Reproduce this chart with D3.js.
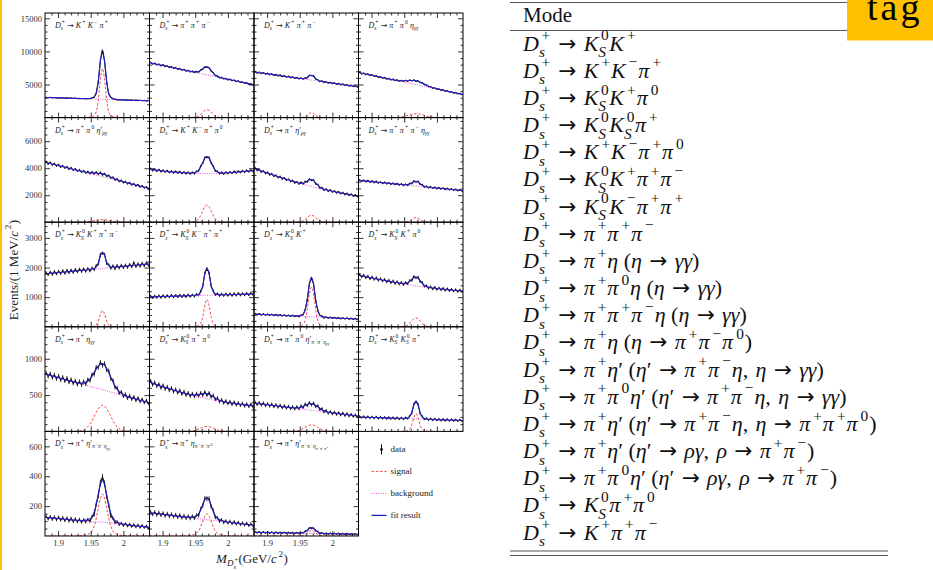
<!DOCTYPE html>
<html>
<head>
<meta charset="utf-8">
<script src="https://cdn.jsdelivr.net/npm/d3@7"></script>
<style>
  body { margin: 0; background: #fff; }
  svg { display: block; }
  text { font-family: "Liberation Serif", "Times New Roman", serif; white-space: pre; }
</style>
</head>
<body>
<div id="chart"></div>
<script>
const w = 933;
const h = 570;

// fit grid layout
const gridLeft = 45;
const gridTop = 13;
const colW = 104.5;
const rowH = 104.6;

const X_DOMAIN = [1.88, 2.04];
const X_TICKS = [1.9, 1.95, 2];
const X_TICK_LABELS = ['1.9', '1.95', '2'];
const ROW_YMAX = [15800, 7750, 3530, 1440, 700];
const ROW_TICKS = [[5000, 10000, 15000], [2000, 4000, 6000], [1000, 2000, 3000], [500, 1000], [200, 400, 600]];
const ROW_MINOR = [1000, 500, 200, 100, 50];

// data bin centres (GeV), 50 bins
const BIN_X = d3.range(50).map(i => 1.8816 + 0.0032 * i);
const CURVE_X = [1.88, 1.90, 1.92, 1.935, 1.945, 1.952, 1.957, 1.961, 1.965, 1.968, 1.971, 1.975, 1.979, 1.984, 1.991, 2.00, 2.02, 2.04];

const LABELS = [
  'D@{s}{+} → K^{+} K^{−} π^{+}', 'D@{s}{+} → π^{+} π^{+} π^{−}', 'D@{s}{+} → K^{+} π^{+} π^{−}', 'D@{s}{+} → π^{+} π^{0} η_{γγ}',
  'D@{s}{+} → π^{+} π^{0} η′_{ργ}', 'D@{s}{+} → K^{+} K^{−} π^{+} π^{0}', 'D@{s}{+} → π^{+} η′_{ργ}', 'D@{s}{+} → π^{+} π^{+} π^{−} η_{γγ}',
  'D@{s}{+} → K@{S}{0} K^{+} π^{+} π^{−}', 'D@{s}{+} → K@{S}{0} K^{−} π^{+} π^{+}', 'D@{s}{+} → K@{S}{0} K^{+}', 'D@{s}{+} → K@{S}{0} K^{+} π^{0}',
  'D@{s}{+} → π^{+} η_{γγ}', 'D@{s}{+} → K@{S}{0} π^{+} π^{0}', 'D@{s}{+} → π^{+} π^{0} η′_{π^{+}π^{−}η_{γγ}}', 'D@{s}{+} → K@{S}{0} K@{S}{0} π^{+}',
  'D@{s}{+} → π^{+} η′_{π^{+}π^{−}η_{γγ}}', 'D@{s}{+} → π^{+} η_{π^{+}π^{−}π^{0}}', 'D@{s}{+} → π^{+} η′_{π^{+}π^{−}η_{π^{+}π^{−}π^{0}}}'
];

const data_KKpi = [3080,2990,3060,2970,3040,2950,3010,2930,3000,2920,2980,2900,2960,2880,2940,2870,2910,2850,2890,2830,2870,2850,2960,3080,3720,5420,8600,10200,8480,5450,3600,3070,2810,2780,2680,2720,2650,2700,2630,2690,2610,2660,2590,2640,2570,2620,2550,2600,2530,2570];
const bkg_KKpi = [3050,2990,2925,2880,2850,2825,2810,2800,2785,2775,2765,2755,2740,2725,2705,2675,2610,2550];
const sig_KKpi = [0,0,0,0,37,148,518,2220,5920,7400,5920,2220,518,148,37,0,0,0];

const data_pipipi = [8380,8090,8240,7960,8090,7830,7980,7700,7820,7560,7700,7440,7560,7300,7420,7160,7290,7030,7150,6900,7010,6800,6970,6880,7210,7300,7700,7580,7560,7030,6810,6330,6300,5990,6080,5830,5940,5700,5800,5570,5670,5430,5540,5300,5400,5170,5270,5030,5130,4900];
const bkg_pipipi = [8300,7880,7460,7150,6940,6790,6690,6605,6520,6460,6395,6310,6225,6120,5975,5790,5370,4950];
const sig_pipipi = [0,0,0,0,12,96,348,732,1092,1200,1092,732,348,96,12,0,0,0];

const data_Kpipi = [6980,6730,6880,6650,6800,6560,6700,6470,6610,6380,6520,6290,6440,6200,6330,6110,6250,6020,6160,5940,6060,5850,5990,5800,6000,6000,6400,6340,6310,5820,5730,5440,5540,5300,5440,5210,5340,5120,5260,5030,5170,4940,5080,4850,4990,4760,4900,4680,4800,4590];
const bkg_Kpipi = [6900,6620,6340,6125,5985,5890,5820,5760,5705,5660,5620,5565,5510,5440,5340,5215,4930,4650];
const sig_Kpipi = [0,0,0,0,4,15,75,285,630,750,630,285,75,15,4,0,0,0];

const data_pipi0eta = [6870,6600,6720,6480,6590,6350,6460,6210,6330,6090,6190,5950,6060,5820,5930,5690,5800,5580,5690,5490,5630,5460,5630,5500,5690,5540,5690,5480,5560,5280,5290,4970,4970,4670,4700,4430,4500,4260,4340,4110,4210,3980,4080,3850,3940,3710,3810,3590,3680,3450];
const bkg_pipi0eta = [6800,6390,5975,5665,5460,5315,5215,5130,5050,4985,4925,4840,4760,4655,4510,4325,3910,3500];
const sig_pipi0eta = [0,0,0,13,93,238,383,487,563,580,563,487,383,238,93,17,0,0];

const data_pipi0etapRG = [4510,4310,4430,4240,4350,4160,4270,4080,4190,4010,4110,3930,4040,3850,3960,3780,3890,3700,3820,3640,3760,3590,3730,3570,3720,3550,3690,3500,3610,3400,3480,3260,3340,3130,3210,3010,3110,2920,3020,2840,2940,2760,2860,2680,2790,2600,2710,2530,2630,2450];
const bkg_pipi0etapRG = [4450,4205,3960,3780,3660,3575,3510,3465,3415,3380,3340,3290,3245,3185,3100,2990,2745,2500];
const sig_pipi0etapRG = [0,0,0,5,32,82,132,168,194,200,194,168,132,82,32,6,0,0];

const data_KKpipi0 = [3990,3820,3940,3780,3900,3740,3860,3710,3830,3680,3800,3650,3780,3630,3750,3610,3730,3590,3710,3570,3700,3590,3780,3790,4170,4370,4810,4800,4810,4370,4160,3780,3770,3590,3700,3570,3720,3600,3740,3620,3770,3650,3790,3680,3820,3700,3850,3730,3870,3760];
const bkg_KKpipi0 = [3920,3800,3710,3660,3630,3615,3605,3600,3595,3595,3595,3600,3605,3615,3630,3660,3740,3830];
const sig_KKpipi0 = [0,0,0,0,13,102,368,775,1156,1270,1156,775,368,102,13,0,0,0];

const data_pietapRG = [4050,3830,3920,3720,3800,3610,3700,3500,3600,3400,3490,3300,3390,3200,3290,3100,3190,3010,3100,2910,3000,2830,2960,2830,3030,2980,3210,3090,3140,2830,2800,2520,2570,2370,2460,2290,2400,2230,2330,2160,2270,2100,2210,2040,2140,1980,2090,1920,2030,1870];
const bkg_pietapRG = [4000,3650,3330,3100,2950,2850,2780,2725,2675,2640,2605,2560,2515,2460,2390,2300,2100,1920];
const sig_pietapRG = [0,0,0,0,5,42,151,317,473,520,473,317,151,42,5,0,0,0];

const data_pipipieta = [3150,3020,3120,2990,3090,2960,3060,2930,3030,2900,2990,2870,2970,2840,2930,2810,2900,2780,2870,2750,2840,2720,2820,2720,2880,2860,3060,2980,3030,2800,2790,2600,2670,2540,2630,2510,2600,2480,2570,2450,2540,2420,2510,2390,2480,2360,2450,2330,2420,2300];
const bkg_pipipieta = [3100,3005,2910,2840,2790,2760,2735,2715,2695,2680,2670,2650,2630,2605,2570,2530,2435,2340];
const sig_pipipieta = [0,0,0,0,0,11,67,179,308,350,308,179,67,11,0,0,0,0];

const data_KsKpipi = [1840,1750,1850,1760,1870,1780,1880,1790,1900,1800,1910,1820,1920,1830,1940,1850,1950,1860,1960,1870,1970,1880,1990,1920,2070,2110,2450,2480,2450,2130,2100,1970,2060,1960,2070,1980,2080,1990,2090,2000,2110,2020,2170,2030,2130,2040,2150,2060,2160,2070];
const bkg_KsKpipi = [1790,1830,1870,1905,1925,1940,1950,1955,1965,1970,1980,1985,1995,2005,2020,2040,2080,2120];
const sig_KsKpipi = [0,0,0,0,3,11,39,165,440,550,440,165,39,11,3,0,0,0];

const data_KsKmpipi = [1050,975,1050,980,1055,985,1060,990,1065,995,1070,1000,1075,1000,1080,1005,1080,1010,1085,1015,1085,1020,1105,1060,1210,1360,1830,1950,1830,1370,1220,1075,1125,1040,1115,1045,1120,1050,1125,1050,1130,1055,1135,1060,1135,1065,1140,1070,1145,1075];
const bkg_KsKmpipi = [1010,1023,1035,1044,1051,1055,1058,1061,1063,1065,1067,1069,1072,1075,1079,1085,1098,1110];
const sig_KsKmpipi = [0,0,0,0,5,19,65,278,740,925,740,278,65,19,5,0,0,0];

const data_KsK = [450,405,445,398,438,392,430,385,422,378,415,372,408,365,400,358,395,352,388,345,380,338,400,410,585,905,1460,1640,1450,895,565,385,365,298,332,290,325,285,318,278,312,270,305,265,298,258,290,250,284,245];
const bkg_KsK = [430,409,388,372,361,354,348,344,340,337,333,329,325,320,312,303,281,260];
const sig_KsK = [0,0,0,0,7,27,134,509,1126,1340,1126,509,134,27,7,0,0,0];

const data_KsKpi0 = [1770,1680,1745,1650,1715,1620,1690,1595,1660,1565,1630,1540,1605,1510,1580,1485,1555,1460,1530,1435,1505,1415,1500,1445,1570,1560,1700,1645,1680,1520,1505,1360,1395,1295,1355,1270,1340,1255,1320,1240,1305,1225,1290,1210,1275,1198,1262,1185,1250,1175];
const bkg_KsKpi0 = [1740,1650,1565,1505,1465,1440,1420,1405,1392,1382,1372,1360,1348,1334,1315,1292,1245,1205];
const sig_KsKpi0 = [0,0,0,0,3,24,87,183,273,300,273,183,87,24,3,0,0,0];

const data_pieta = [810,755,795,740,780,722,765,705,748,692,733,675,716,660,700,645,690,638,690,648,716,698,785,785,885,878,952,908,936,846,836,722,705,603,605,523,546,481,514,455,494,440,478,424,462,408,446,393,430,378];
const bkg_pieta = [790,741,691,654,630,612,600,590,580,573,565,555,546,533,516,494,444,395];
const sig_pieta = [0,0,0,8,58,148,238,302,349,360,349,302,238,148,58,11,0,0];

const data_Kspipi0 = [695,640,675,620,652,598,634,582,616,563,598,545,582,530,566,513,550,498,533,485,522,478,523,485,533,496,544,497,532,473,497,437,463,406,438,388,422,378,413,369,405,362,396,354,388,346,381,340,374,334];
const bkg_Kspipi0 = [680,615,560,522,498,482,471,463,455,449,444,437,430,422,411,398,372,350];
const sig_Kspipi0 = [0,0,0,1,5,20,39,55,67,70,67,55,39,20,5,0,0,0];

const data_pipi0etap3 = [405,368,398,360,392,352,384,346,377,339,370,331,362,324,356,317,348,310,341,306,341,309,352,327,377,353,399,363,391,339,355,298,316,265,290,249,275,238,268,231,261,223,254,216,247,209,239,202,232,196];
const bkg_pipi0etap3 = [390,368,345,328,317,309,303,299,294,291,288,283,279,273,265,255,233,210];
const sig_pipi0etap3 = [0,0,0,1,6,25,50,70,86,90,86,70,50,25,6,1,0,0];

const data_KsKspi = [210,186,207,184,205,182,203,180,201,178,199,176,197,174,195,172,193,170,191,168,189,166,191,174,214,250,376,405,374,247,209,167,182,155,176,153,174,151,172,149,170,147,168,145,166,143,164,141,162,140];
const bkg_KsKspi = [198,192,186,182,179,176,175,174,173,172,171,169,168,167,165,162,156,150];
const sig_KsKspi = [0,0,0,0,1,5,17,74,196,245,196,74,17,5,1,0,0,0];

const data_pietap3 = [133,114,130,111,128,108,126,106,123,103,120,100,118,97,114,94,111,92,109,93,112,99,130,140,212,268,358,395,352,265,207,131,119,87,96,75,86,69,83,66,80,63,77,60,74,57,71,55,68,52];
const bkg_pietap3 = [125,117,108,101,97,95,94,93,93,92,91,90,88,86,82,77,67,58];
const sig_pietap3 = [0,0,0,3,11,34,90,174,255,280,255,174,90,34,11,3,0,0];

const data_pieta3pi = [163,144,160,141,157,138,153,135,150,131,147,128,143,125,140,121,136,118,133,116,133,117,140,136,181,203,253,249,250,196,171,123,122,97,109,89,102,85,99,82,96,79,92,76,89,72,86,69,82,66];
const bkg_pieta3pi = [155,145,134,126,121,118,115,113,111,109,108,106,104,101,97,93,82,72];
const sig_pieta3pi = [0,0,0,1,6,18,47,92,135,148,135,92,47,18,6,1,0,0];

const data_pietap3pi = [29,21,28,20,27,20,27,19,26,19,26,18,25,18,25,17,24,17,24,16,23,16,23,20,32,36,54,52,53,35,30,18,21,13,19,13,19,12,18,12,18,11,17,11,17,10,16,10,15,9];
const bkg_pietap3pi = [25,23,22,21,20,19,19,18,18,18,18,17,17,17,16,15,13,12];
const sig_pietap3pi = [0,0,0,0,0,1,7,19,33,37,33,19,7,1,0,0,0,0];

// table of decay modes
const MODES = [
  'D@{s}{+} → K@{S}{0}K^{+}',
  'D@{s}{+} → K^{+}K^{−}π^{+}',
  'D@{s}{+} → K@{S}{0}K^{+}π^{0}',
  'D@{s}{+} → K@{S}{0}K@{S}{0}π^{+}',
  'D@{s}{+} → K^{+}K^{−}π^{+}π^{0}',
  'D@{s}{+} → K@{S}{0}K^{+}π^{+}π^{−}',
  'D@{s}{+} → K@{S}{0}K^{−}π^{+}π^{+}',
  'D@{s}{+} → π^{+}π^{+}π^{−}',
  'D@{s}{+} → π^{+}η (η → γγ)',
  'D@{s}{+} → π^{+}π^{0}η (η → γγ)',
  'D@{s}{+} → π^{+}π^{+}π^{−}η (η → γγ)',
  'D@{s}{+} → π^{+}η (η → π^{+}π^{−}π^{0})',
  'D@{s}{+} → π^{+}η′ (η′ → π^{+}π^{−}η, η → γγ)',
  'D@{s}{+} → π^{+}π^{0}η′ (η′ → π^{+}π^{−}η, η → γγ)',
  'D@{s}{+} → π^{+}η′ (η′ → π^{+}π^{−}η, η → π^{+}π^{+}π^{0})',
  'D@{s}{+} → π^{+}η′ (η′ → ργ, ρ → π^{+}π^{−})',
  'D@{s}{+} → π^{+}π^{0}η′ (η′ → ργ, ρ → π^{+}π^{−})',
  'D@{s}{+} → K@{S}{0}π^{+}π^{0}',
  'D@{s}{+} → K^{+}π^{+}π^{−}'
];

const LEGEND = ['data', 'signal', 'background', 'fit result'];

const panels = [
  [data_KKpi, bkg_KKpi, sig_KKpi], [data_pipipi, bkg_pipipi, sig_pipipi], [data_Kpipi, bkg_Kpipi, sig_Kpipi], [data_pipi0eta, bkg_pipi0eta, sig_pipi0eta],
  [data_pipi0etapRG, bkg_pipi0etapRG, sig_pipi0etapRG], [data_KKpipi0, bkg_KKpipi0, sig_KKpipi0], [data_pietapRG, bkg_pietapRG, sig_pietapRG], [data_pipipieta, bkg_pipipieta, sig_pipipieta],
  [data_KsKpipi, bkg_KsKpipi, sig_KsKpipi], [data_KsKmpipi, bkg_KsKmpipi, sig_KsKmpipi], [data_KsK, bkg_KsK, sig_KsK], [data_KsKpi0, bkg_KsKpi0, sig_KsKpi0],
  [data_pieta, bkg_pieta, sig_pieta], [data_Kspipi0, bkg_Kspipi0, sig_Kspipi0], [data_pipi0etap3, bkg_pipi0etap3, sig_pipi0etap3], [data_KsKspi, bkg_KsKspi, sig_KsKspi],
  [data_pietap3, bkg_pietap3, sig_pietap3], [data_pieta3pi, bkg_pieta3pi, sig_pieta3pi], [data_pietap3pi, bkg_pietap3pi, sig_pietap3pi]
].map((d, k) => ({ label: LABELS[k], data: d[0], bkg: d[1], sig: d[2] }));

// --- tiny math markup: ^{..} sup, _{..} sub, @{sub}{sup} stacked, ~{..} upright
const group = (s, i) => {
  let depth = 0, j = i;
  for (; j < s.length; j++) {
    if (s[j] === '{') depth++;
    else if (s[j] === '}') { depth--; if (depth === 0) break; }
  }
  return [s.slice(i + 1, j), j + 1];
};

const toRuns = (s, size, shift, up, out) => {
  let buf = '', i = 0;
  const flush = () => { if (buf) out.push({ t: buf, size, shift, up }); buf = ''; };
  while (i < s.length) {
    const ch = s[i];
    if ((ch === '^' || ch === '_') && s[i + 1] === '{') {
      flush();
      const [inner, j] = group(s, i + 1);
      // italic correction before a superscript, small space after it
      if (ch === '^') out.push({ kern: 0.14 * size });
      toRuns(inner, size * 0.7, shift + (ch === '^' ? 0.47 : -0.25) * size, up, out);
      if (ch === '^') out.push({ kern: 0.04 * size });
      i = j;
    } else if (ch === '@') {
      flush();
      const [sub, j1] = group(s, i + 1);
      const [sup, j2] = group(s, j1);
      out.push({ stack: true, sub, sup, size, shift, up });
      i = j2;
    } else if (ch === '~' && s[i + 1] === '{') {
      flush();
      const [inner, j] = group(s, i + 1);
      toRuns(inner, size, shift, true, out);
      i = j;
    } else { buf += ch; i++; }
  }
  flush();
};

const mathText = (parent, str, x, y, size, anchor) => {
  const text = parent.append('text').attr('x', x).attr('y', y)
    .attr('font-size', size).attr('text-anchor', anchor || 'start');
  const runs = [];
  toRuns(str, size, 0, false, runs);
  let cur = 0, pend = 0;
  const put = (txt, sz, sh, up) => {
    const parts = up ? [txt] : txt.split(/([A-Za-z\u0391-\u03c9]+|→)/).filter(s => s.length);
    let wsum = 0;
    parts.forEach(part => {
      const ts = text.append('tspan').text(part).attr('font-size', sz).attr('dy', cur - sh);
      if (part === '→') ts.attr('font-family', '"DejaVu Sans", sans-serif').attr('font-size', sz * 0.98);
      else if (!up && /^[A-Za-z\u0391-\u03c9]/.test(part)) ts.attr('font-style', 'italic');
      if (pend) { ts.attr('dx', pend); pend = 0; }
      cur = sh;
      wsum += ts.node().getComputedTextLength();
    });
    return wsum;
  };
  runs.forEach(rn => {
    if (rn.kern) {
      pend += rn.kern;
    } else if (rn.stack) {
      const s2 = rn.size * 0.7;
      const k = 0.12 * rn.size;
      pend += k;
      const wa = put(rn.sup, s2, rn.shift + 0.47 * rn.size, rn.up);
      pend = -(wa + k);
      const wb = put(rn.sub, s2, rn.shift - 0.3 * rn.size, rn.up);
      pend = Math.max(0, wa + k - wb) + 0.03 * rn.size;
    } else {
      put(rn.t, rn.size, rn.shift, rn.up);
    }
  });
  return text;
};

const svg = d3.select('#chart').append('svg').attr('width', w).attr('height', h);

// yellow strip at the left edge
svg.append('rect').attr('x', 0).attr('y', 0).attr('width', 2).attr('height', h).attr('fill', '#ffc000');

const near = (a, b) => Math.abs(a - b) < 1e-6;
const minorX = d3.range(1.89, 2.035, 0.01).filter(v => !X_TICKS.some(t => near(t, v)));

drawPanel = (p, k) => {
  const r = Math.floor(k / 4), c = k % 4;
  const x = d3.scaleLinear().domain(X_DOMAIN).range([0, colW]);
  const y = d3.scaleLinear().domain([0, ROW_YMAX[r]]).range([rowH, 0]);
  const g = svg.append('g').attr('transform', `translate(${gridLeft + c * colW}, ${gridTop + r * rowH})`);

  g.append('clipPath').attr('id', 'clip' + k)
    .append('rect').attr('width', colW).attr('height', rowH);
  const plot = g.append('g').attr('clip-path', `url(#clip${k})`);

  // data with error bars
  const pts = p.data.map((v, i) => [BIN_X[i], v]);
  plot.append('g').selectAll('line')
    .data(pts)
    .enter()
    .append('line')
      .attr('x1', d => x(d[0]))
      .attr('x2', d => x(d[0]))
      .attr('y1', d => y(d[1] - Math.sqrt(d[1])))
      .attr('y2', d => y(d[1] + Math.sqrt(d[1])))
      .attr('stroke', '#000')
      .attr('stroke-width', 0.8);
  plot.append('path')
    .datum(pts)
    .attr('d', d3.line().x(d => x(d[0])).y(d => y(d[1])))
    .attr('fill', 'none')
    .attr('stroke', '#111')
    .attr('stroke-width', 1.1);

  const smooth = d3.line().x(d => x(d[0])).y(d => y(d[1])).curve(d3.curveMonotoneX);
  // background
  plot.append('path')
    .datum(CURVE_X.map((v, i) => [v, p.bkg[i]]))
    .attr('d', smooth)
    .attr('fill', 'none')
    .attr('stroke', '#e040e0')
    .attr('stroke-width', 0.9)
    .attr('stroke-dasharray', '1,1.3');
  // signal
  plot.append('path')
    .datum(CURVE_X.map((v, i) => [v, p.sig[i]]))
    .attr('d', smooth)
    .attr('fill', 'none')
    .attr('stroke', '#ee3333')
    .attr('stroke-width', 0.9)
    .attr('stroke-dasharray', '2.5,1.8');
  // fit result = signal + background
  plot.append('path')
    .datum(CURVE_X.map((v, i) => [v, p.bkg[i] + p.sig[i]]))
    .attr('d', smooth)
    .attr('fill', 'none')
    .attr('stroke', '#2020c8')
    .attr('stroke-width', 1.05);

  // ticks on all four sides, pointing in
  const minorY = d3.range(ROW_MINOR[r], ROW_YMAX[r], ROW_MINOR[r]).filter(v => !ROW_TICKS[r].includes(v));
  const showX = r === 4;
  const addAxis = (axis, tr) => {
    const a = g.append('g').attr('transform', tr).call(axis);
    a.select('.domain').remove();
    a.attr('font-family', '"Liberation Serif", serif').attr('font-size', 8.5).attr('color', '#000');
    a.selectAll('line').attr('stroke-width', 0.8);
    a.selectAll('text').attr('fill', '#333');
    return a;
  };
  addAxis(d3.axisBottom(x).tickValues(X_TICKS).tickSize(-5).tickPadding(4)
    .tickFormat((d, i) => showX ? X_TICK_LABELS[i] : ''), `translate(0, ${rowH})`);
  addAxis(d3.axisBottom(x).tickValues(minorX).tickSize(-2.5).tickFormat(''), `translate(0, ${rowH})`);
  addAxis(d3.axisTop(x).tickValues(X_TICKS).tickSize(-5).tickFormat(''), 'translate(0, 0)');
  addAxis(d3.axisTop(x).tickValues(minorX).tickSize(-2.5).tickFormat(''), 'translate(0, 0)');
  addAxis(d3.axisLeft(y).tickValues(ROW_TICKS[r]).tickSize(-5).tickPadding(3)
    .tickFormat(c === 0 ? d3.format('d') : ''), 'translate(0, 0)');
  addAxis(d3.axisLeft(y).tickValues(minorY).tickSize(-2.5).tickFormat(''), 'translate(0, 0)');
  addAxis(d3.axisRight(y).tickValues(ROW_TICKS[r]).tickSize(-5).tickFormat(''), `translate(${colW}, 0)`);
  addAxis(d3.axisRight(y).tickValues(minorY).tickSize(-2.5).tickFormat(''), `translate(${colW}, 0)`);

  g.append('rect')
    .attr('width', colW)
    .attr('height', rowH)
    .attr('fill', 'none')
    .attr('stroke', '#000')
    .attr('stroke-width', 1);

  mathText(g, p.label, 10, 15, 8).attr('fill', '#222');
};

panels.forEach(drawPanel);

// legend in the empty cell
const lx = gridLeft + 3 * colW;
const ly = gridTop + 4 * rowH;
const leg = svg.append('g').attr('transform', `translate(${lx}, ${ly})`);
LEGEND.forEach((name, i) => {
  const yy = 18 + i * 22;
  if (i === 0) {
    leg.append('line').attr('x1', 23).attr('x2', 23).attr('y1', yy - 5).attr('y2', yy + 5)
      .attr('stroke', '#000').attr('stroke-width', 1);
    leg.append('circle').attr('cx', 23).attr('cy', yy).attr('r', 1.3).attr('fill', '#000');
  } else {
    const style = [null, ['#ee3333', '2.5,1.8'], ['#e040e0', '1,1.3'], ['#2020c8', null]][i];
    leg.append('line').attr('x1', 13).attr('x2', 28).attr('y1', yy).attr('y2', yy)
      .attr('stroke', style[0]).attr('stroke-width', i === 3 ? 1.3 : 0.9)
      .attr('stroke-dasharray', style[1]);
  }
  leg.append('text').attr('x', 32).attr('y', yy + 3).text(name)
    .attr('font-family', '"Liberation Sans", Arial, sans-serif').attr('font-size', 9).attr('fill', '#222');
});

// axis titles
const gy = svg.append('g').attr('transform', 'translate(13, 270) rotate(-90)');
mathText(gy, '~{Events/(1 MeV/}c^{2}~{)}', 0, 4.5, 13, 'middle').attr('fill', '#222');
mathText(svg, 'M_{D@{s}{+}}~{(GeV/}c^{2}~{)}', 252, 563, 13, 'middle').attr('fill', '#222');

// mode table on the right
const tl = 510, tr = 888;
const rule = yy => svg.append('line').attr('x1', tl).attr('x2', tr).attr('y1', yy).attr('y2', yy)
  .attr('stroke', '#555').attr('stroke-width', 1);
rule(2.5);
rule(30.5);
rule(551);
rule(555.5);
svg.append('text').attr('x', 523).attr('y', 22).attr('font-size', 21).text('Mode').attr('fill', '#111');
MODES.forEach((m, i) => {
  const s = m.replace(/ → /g, '\u2004→\u2004').replace(/, /g, ',\u2004');
  mathText(svg, s, 523, 50.5 + i * 27.17, 22).attr('fill', '#111');
});

// "tag" badge in the corner
svg.append('rect').attr('x', 847).attr('y', 0).attr('width', w - 847).attr('height', 40.5).attr('fill', '#ffc000');
svg.append('text').attr('x', 867).attr('y', 19.5).text('tag')
  .attr('font-family', '"Open Sans", sans-serif').attr('font-size', 38)
  .attr('letter-spacing', 3).attr('fill', '#000');
</script>
</body>
</html>
